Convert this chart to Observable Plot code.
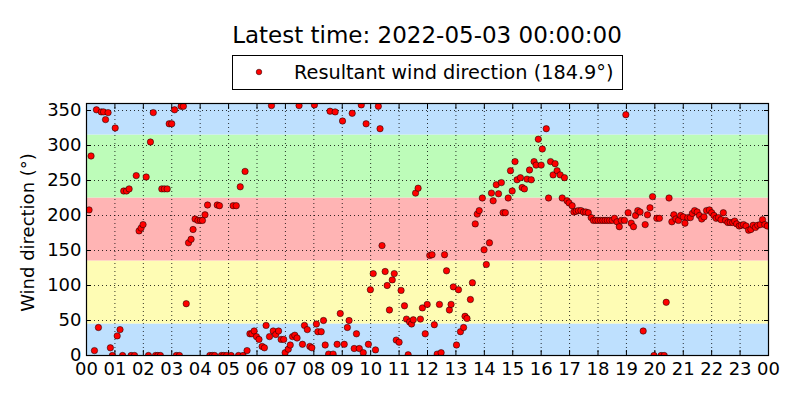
<!DOCTYPE html>
<html>
<head>
<meta charset="utf-8">
<script src="https://cdn.jsdelivr.net/npm/d3@7"></script>
<script src="https://cdn.jsdelivr.net/npm/@observablehq/plot@0.6"></script>
<style>
  body { margin: 0; background: #fff; }
  #wrap { position: relative; width: 800px; height: 400px; font-family: "DejaVu Sans", sans-serif; color: #000; }
  #title { position: absolute; left: 86px; width: 682px; top: 22px; text-align: center; font-size: 23px; line-height: 26px; white-space: nowrap; }
  #legend { position: absolute; left: 232px; top: 55px; width: 389px; height: 33px; border: 1px solid #000; background: #fff; }
  #legend svg { position: absolute; left: 0; top: 0; }
  #legend span { position: absolute; left: 61px; top: 5px; font-size: 19.3px; line-height: 24px; white-space: nowrap; }
  #plot { position: absolute; left: 0; top: 95px; }
</style>
</head>
<body>
<div id="wrap">
  <div id="title"></div>
  <div id="legend"><svg width="60" height="33"><circle cx="26" cy="16" r="2.8" fill="red" stroke="black" stroke-width="0.5"></circle></svg><span id="legendText"></span></div>
  <div id="plot"></div>
</div>
<script>
const titleText = "Latest time: 2022-05-03 00:00:00";
const seriesName = "Resultant wind direction";
const latestValue = "184.9";
const yLabel = "Wind direction (°)";

// time of day in hours (2022-05-02 00:00 -> 2022-05-03 00:00)
const hours = [
  0.09,0.16,0.28,0.35,0.42,0.52,0.60,0.67,0.76,0.84,0.91,1.01,1.08,1.18,1.27,1.31,1.41,1.50,1.57,1.69,
  1.75,1.85,1.92,1.99,2.10,2.18,2.25,2.35,2.43,2.51,2.60,2.65,2.74,2.84,2.91,3.00,3.10,3.16,3.27,3.33,
  3.41,3.51,3.59,3.68,3.75,3.82,3.92,4.01,4.08,4.17,4.26,4.34,4.43,4.51,4.60,4.68,4.75,4.83,4.93,5.09,
  5.16,5.27,5.35,5.41,5.51,5.58,5.65,5.75,5.82,5.90,5.98,6.07,6.18,6.26,6.32,6.44,6.51,6.57,6.66,6.76,
  6.85,6.94,6.99,7.10,7.17,7.25,7.33,7.41,7.48,7.60,7.67,7.77,7.86,7.93,8.02,8.09,8.14,8.26,8.34,8.40,
  8.52,8.57,8.68,8.75,8.82,8.93,9.01,9.07,9.18,9.24,9.35,9.42,9.50,9.60,9.67,9.74,9.84,9.92,9.99,10.09,
  10.17,10.27,10.33,10.40,10.51,10.58,10.66,10.76,10.83,10.90,11.00,11.07,11.19,11.26,11.32,11.37,11.44,11.50,11.58,11.67,
  11.75,11.82,11.92,11.99,12.08,12.16,12.24,12.34,12.42,12.48,12.60,12.67,12.77,12.83,12.91,13.02,13.09,13.16,13.27,13.32,
  13.39,13.51,13.58,13.68,13.75,13.82,13.93,13.99,14.07,14.18,14.25,14.31,14.42,14.50,14.60,14.66,14.74,14.84,14.92,14.98,
  15.08,15.15,15.27,15.33,15.41,15.50,15.59,15.65,15.75,15.82,15.90,16.00,16.04,16.18,16.26,16.33,16.42,16.49,16.56,16.67,
  16.74,16.82,16.91,16.98,17.09,17.15,17.23,17.31,17.40,17.49,17.57,17.66,17.76,17.84,17.92,18.00,18.09,18.17,18.25,18.33,
  18.41,18.50,18.58,18.67,18.75,18.82,18.93,18.98,19.06,19.17,19.25,19.32,19.40,19.48,19.59,19.66,19.74,19.83,19.92,19.97,
  20.07,20.16,20.22,20.33,20.40,20.50,20.60,20.67,20.74,20.83,20.91,21.00,21.06,21.16,21.25,21.32,21.40,21.49,21.57,21.65,
  21.73,21.82,21.92,22.00,22.08,22.16,22.24,22.33,22.41,22.49,22.57,22.65,22.74,22.81,22.88,22.97,23.04,23.12,23.21,23.30,
  23.38,23.46,23.54,23.62,23.71,23.79,23.87,23.96
];
// wind direction in degrees
const directions = [
  208,285,7,351,40,348,348,337,347,11,0,325,28,37,0,235,235,238,0,0,
  257,178,182,187,255,0,305,347,0,0,0,238,238,238,331,331,351,0,0,356,
  356,74,161,166,180,195,193,193,193,201,215,0,0,0,215,214,0,0,0,0,
  214,214,0,241,0,263,7,31,31,35,27,23,13,11,43,27,357,35,30,35,
  23,23,4,9,15,27,29,25,357,16,43,37,13,11,358,45,34,34,50,15,
  2,349,2,348,16,60,335,16,40,50,346,10,31,10,358,4,331,16,94,117,
  8,356,324,157,120,100,65,108,117,22,19,93,71,52,1,48,45,51,232,239,
  52,68,31,73,143,144,44,2,73,4,144,121,65,73,98,15,94,34,40,56,
  53,80,104,188,202,207,225,151,130,161,232,221,244,231,247,204,204,225,264,235,
  277,251,254,240,238,252,265,251,277,272,309,272,295,324,225,277,258,274,264,258,
  225,254,221,218,214,205,206,207,207,205,205,204,197,193,193,193,193,193,193,193,
  193,193,196,191,184,193,193,344,204,189,184,200,207,205,35,187,201,211,227,0,
  196,196,0,0,76,225,191,201,195,193,200,198,189,197,197,203,207,205,200,195,
  198,207,208,204,200,196,197,194,204,193,190,190,190,192,188,185,186,187,185,179,
  180,186,183,186,187,194,187,185
];

const bandLow = [0, 45, 135, 225, 315];
const bandHigh = [45, 135, 225, 315, 360];
const bandColors = ["#bee0fe", "#fefcb4", "#ffb4b4", "#bdfcb9", "#bee0fe"];

const dayStart = 0, dayEnd = 24;
const xTicks = d3.range(0, 25);
const xTickLabels = ["00","01","02","03","04","05","06","07","08","09","10","11","12","13","14","15","16","17","18","19","20","21","22","23","00"];
const yTicks = [0, 50, 100, 150, 200, 250, 300, 350];
const yMin = 0, yMax = 360;

document.getElementById("title").textContent = titleText;
document.getElementById("legendText").textContent = `${seriesName} (${latestValue}°)`;

const points = hours.map((h, i) => ({h, d: directions[i]}));
const bands = bandLow.map((lo, i) => ({lo, hi: bandHigh[i], color: bandColors[i]}));
const fmtX = h => xTickLabels[xTicks.indexOf(h)];

const chart = Plot.plot({
  width: 800,
  height: 305,
  marginLeft: 86,
  marginRight: 32,
  marginTop: 8,
  marginBottom: 45,
  style: {fontFamily: "DejaVu Sans, sans-serif", background: "transparent", color: "#000"},
  x: {domain: [dayStart, dayEnd], axis: null},
  y: {domain: [yMin, yMax], axis: null},
  marks: [
    Plot.rect(bands, {y1: "lo", y2: "hi", fill: "color"}),
    Plot.gridX(xTicks, {stroke: "#000", strokeOpacity: 1, strokeWidth: 0.8, strokeDasharray: "1,3"}),
    Plot.gridY(yTicks, {stroke: "#000", strokeOpacity: 1, strokeWidth: 0.8, strokeDasharray: "1,3"}),
    Plot.axisX(xTicks, {anchor: "bottom", tickSize: 0, tickPadding: 7, tickFormat: fmtX, fontSize: 18, label: null}),
    Plot.axisY(yTicks, {anchor: "left", tickSize: 0, tickPadding: 5, fontSize: 18, label: null}),
    Plot.axisX(xTicks, {anchor: "bottom", tickSize: -5, tickFormat: () => "", label: null}),
    Plot.axisX(xTicks, {anchor: "top", tickSize: -5, tickFormat: () => "", label: null}),
    Plot.axisY(yTicks, {anchor: "left", tickSize: -5, tickFormat: () => "", label: null}),
    Plot.axisY(yTicks, {anchor: "right", tickSize: -5, tickFormat: () => "", label: null}),
    Plot.text([yLabel], {frameAnchor: "left", textAnchor: "middle", rotate: -90, dx: -58, dy: 3, fontSize: 18, text: d => d}),
    Plot.dot(points, {x: "h", y: "d", r: 3.2, fill: "red", stroke: "#000", strokeWidth: 0.5, clip: true}),
    Plot.frame({stroke: "#000", strokeWidth: 1.2})
  ]
});
document.getElementById("plot").appendChild(chart);
</script>
</body>
</html>
